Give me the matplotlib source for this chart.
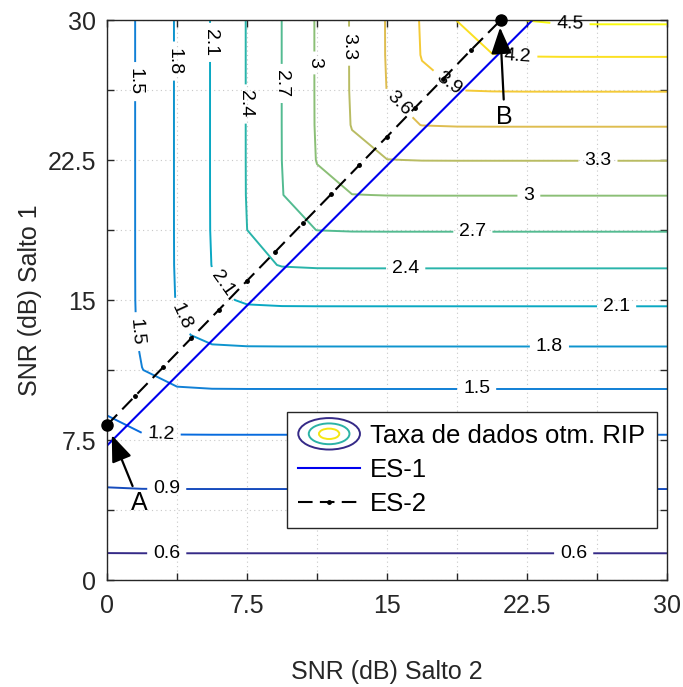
import numpy as np
import matplotlib
matplotlib.use('Agg')
import matplotlib.pyplot as plt
from matplotlib.colors import LinearSegmentedColormap
from matplotlib.patches import Ellipse
from matplotlib.legend_handler import HandlerBase
from matplotlib.lines import Line2D

plt.rcParams['font.family'] = ['Liberation Sans', 'DejaVu Sans']

# curvas de nivel da taxa de dados (bits/uso)
niveis = [0.6, 0.9, 1.2, 1.5, 1.8, 2.1, 2.4, 2.7, 3.0, 3.3, 3.6, 3.9, 4.2, 4.5]

# salto 1: SNR (dB) em que a taxa atinge cada valor
snr1_pts = [0.0, 1.48, 4.96, 7.82, 10.27, 12.53, 14.68, 16.70, 18.66, 20.59,
            22.46, 24.28, 26.16, 28.03, 29.79, 30.0]
taxa1_pts = [0.49, 0.6, 0.9, 1.2, 1.5, 1.8, 2.1, 2.4, 2.7, 3.0,
             3.3, 3.6, 3.9, 4.2, 4.5, 4.54]

# salto 2: SNR (dB) em que a taxa atinge cada valor
snr2_pts = [0.0, 1.5, 3.6, 5.52, 7.43, 9.36, 11.1, 12.96, 14.9, 16.7, 18.64, 21.3, 30.0]
taxa2_pts = [1.28, 1.5, 1.8, 2.1, 2.4, 2.7, 3.0, 3.3, 3.6, 3.9, 4.2, 4.5, 5.9]

# malha de SNR usada no calculo
snr_malha = np.linspace(0, 30, 17)

# estrategias ES-1 e ES-2 (SNR salto 2, SNR salto 1)
es1_x = [0.0, 22.8]
es1_y = [7.2, 30.0]
es2_x = [0.0, 1.5, 3.0, 4.5, 6.0, 7.5, 9.0, 10.5, 12.0, 13.5, 15.0, 16.5, 18.0, 19.5, 21.1]
es2_y = [8.3, 9.85, 11.39, 12.94, 14.48, 16.03, 17.57, 19.12, 20.66, 22.21,
         23.75, 25.30, 26.84, 28.39, 30.0]
ponto_a = (0.0, 8.3)
ponto_b = (21.1, 30.0)

# posicoes dos rotulos das curvas
rotulos = [(3.2, 1.55), (25.0, 1.55), (3.2, 4.96), (2.9, 7.82),
           (1.4, 26.7), (1.6, 13.3), (19.8, 10.27),
           (3.6, 27.8), (3.9, 14.1), (23.7, 12.53),
           (5.5, 28.8), (6.2, 15.9), (27.3, 14.68),
           (7.45, 25.5), (16.0, 16.7),
           (9.3, 26.6), (19.6, 18.66),
           (11.1, 27.7), (22.6, 20.59),
           (12.95, 28.6), (26.3, 22.46),
           (15.5, 25.4), (18.2, 26.5), (22.0, 28.0), (24.8, 29.8)]

parula = LinearSegmentedColormap.from_list('parula', [
    '#352a87', '#0363e1', '#1485d4', '#06a7c6', '#38b99e',
    '#92bf73', '#d9ba56', '#fcce2e', '#f9fb0e'])

X, Y = np.meshgrid(snr_malha, snr_malha)
r1 = np.interp(Y, snr1_pts, taxa1_pts)
r2 = np.interp(X, snr2_pts, taxa2_pts)
# taxa limitada pelo pior salto (minimo suave entre os dois)
Z = -0.13 * np.logaddexp(-r1 / 0.13, -r2 / 0.13)

fig = plt.figure(figsize=(6.83, 6.87), dpi=100)
ax = fig.add_axes([107 / 683, 107 / 687, 560 / 683, 560 / 687])

cs = ax.contour(X, Y, Z, levels=niveis, cmap=parula, linewidths=1.4)
txts = ax.clabel(cs, fmt='%g', fontsize=14, inline=True, inline_spacing=6,
                 manual=rotulos, rightside_up=False, colors='black')
for t in txts:
    t.set_clip_on(False)

ax.plot(es1_x, es1_y, color='#0000ee', lw=1.5)
ax.plot(es2_x, es2_y, color='black', lw=1.5, ls=(0, (7, 3.5)), marker='.', ms=5)
ax.plot(*ponto_a, 'o', color='black', ms=8, clip_on=False, zorder=5)
ax.plot(*ponto_b, 'o', color='black', ms=8, clip_on=False, zorder=5)

seta = dict(arrowstyle='-|>,head_length=0.9,head_width=0.35', color='black', lw=1.6)
ax.annotate('A', xy=(0.2, 7.9), xytext=(1.75, 4.1), fontsize=18,
            ha='center', va='center', arrowprops=seta)
ax.annotate('B', xy=(21.05, 29.75), xytext=(21.3, 24.8), fontsize=18,
            ha='center', va='center', arrowprops=seta)

ax.set_xlim(0, 30)
ax.set_ylim(0, 30)
marcas = np.arange(0, 30.01, 3.75)
nomes = ['0', '', '7.5', '', '15', '', '22.5', '', '30']
ax.set_xticks(marcas)
ax.set_xticklabels(nomes)
ax.set_yticks(marcas)
ax.set_yticklabels(nomes)
ax.tick_params(direction='in', length=5, width=1, top=True, right=True,
               labelsize=18, colors='#262626')
ax.tick_params(axis='x', pad=10)
ax.tick_params(axis='y', pad=8)
ax.grid(True, ls=(0, (1, 3)), color='#c8c8c8', lw=0.8)
for lado in ax.spines.values():
    lado.set_color('#262626')
    lado.set_linewidth(1)

ax.set_xlabel('SNR (dB) Salto 2', fontsize=18, color='#262626', labelpad=30)
ax.set_ylabel('SNR (dB) Salto 1', fontsize=18, color='#262626', labelpad=4)


class HandlerElipses(HandlerBase):
    def create_artists(self, legend, orig_handle, xdescent, ydescent,
                       width, height, fontsize, trans):
        cx = width / 2 - xdescent
        cy = height / 2 - ydescent
        cores = ['#352a87', '#2bb3a6', '#f5e612']
        escalas = [1.0, 0.66, 0.33]
        artistas = []
        for cor, e in zip(cores, escalas):
            el = Ellipse((cx, cy), width * e, height * 1.75 * e, fill=False,
                         edgecolor=cor, lw=1.4, transform=trans)
            artistas.append(el)
        return artistas


marcador = Line2D([], [], color='black')
h1 = Line2D([], [], color='#0000ee', lw=1.5)
h2 = Line2D([], [], color='black', lw=1.5, ls=(0, (7, 3.5)), marker='.', ms=5)
leg = ax.legend([marcador, h1, h2], ['Taxa de dados otm. RIP', 'ES-1', 'ES-2'],
                handler_map={marcador: HandlerElipses()},
                loc='lower right', bbox_to_anchor=(0.982, 0.093), borderaxespad=0,
                prop={'size': 18.5}, handlelength=2.4, handletextpad=0.4,
                labelspacing=0.4, borderpad=0.45, fancybox=False, framealpha=1,
                edgecolor='#262626')
leg.get_frame().set_linewidth(1)

fig.savefig('out.png', dpi=100)
